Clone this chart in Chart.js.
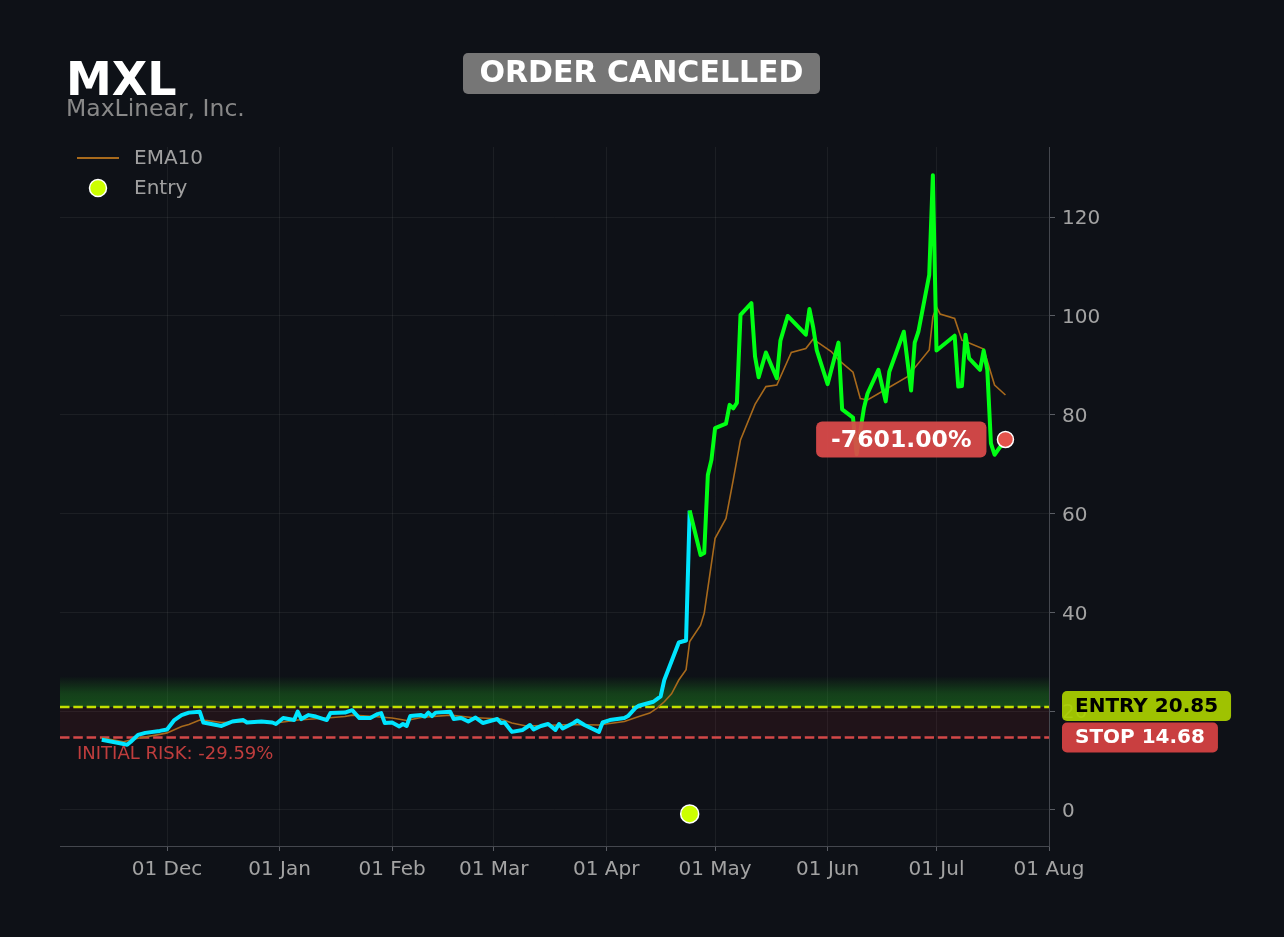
<!DOCTYPE html>
<html>
<head>
<meta charset="utf-8">
<script src="https://cdn.jsdelivr.net/npm/chart.js@4.4.1/dist/chart.umd.min.js"></script>
<style>
  html, body { margin: 0; padding: 0; background: #0e1117; }
  canvas { display: block; }
</style>
</head>
<body>
<canvas id="chart-trade" width="1284" height="937"></canvas>
<script>
// price closes (turning points)
const priceDates = [
  '2024-11-13','2024-11-18','2024-11-20','2024-11-21','2024-11-23','2024-11-25','2024-11-29',
  '2024-12-01','2024-12-03','2024-12-05','2024-12-07','2024-12-10','2024-12-11','2024-12-16',
  '2024-12-19','2024-12-22','2024-12-23','2024-12-27','2024-12-30','2024-12-31',
  '2025-01-02','2025-01-05','2025-01-06','2025-01-07','2025-01-09','2025-01-11','2025-01-14',
  '2025-01-15','2025-01-19','2025-01-21','2025-01-23','2025-01-26','2025-01-28','2025-01-29','2025-01-30',
  '2025-02-01','2025-02-03','2025-02-04','2025-02-05','2025-02-06','2025-02-09','2025-02-10',
  '2025-02-11','2025-02-12','2025-02-13','2025-02-17','2025-02-18','2025-02-20','2025-02-22',
  '2025-02-24','2025-02-26',
  '2025-03-02','2025-03-03','2025-03-04','2025-03-06','2025-03-09','2025-03-11','2025-03-12',
  '2025-03-14','2025-03-16','2025-03-18','2025-03-19','2025-03-20','2025-03-23','2025-03-24',
  '2025-03-26','2025-03-30','2025-03-31',
  '2025-04-02','2025-04-06','2025-04-07','2025-04-08','2025-04-09','2025-04-10','2025-04-14',
  '2025-04-16','2025-04-17','2025-04-21','2025-04-23','2025-04-24','2025-04-27','2025-04-28',
  '2025-04-29','2025-04-30',
  '2025-05-01','2025-05-04','2025-05-05','2025-05-06','2025-05-07','2025-05-08','2025-05-11',
  '2025-05-12','2025-05-13','2025-05-15','2025-05-18','2025-05-19','2025-05-21','2025-05-26',
  '2025-05-27','2025-05-28','2025-05-29',
  '2025-06-01','2025-06-04','2025-06-05','2025-06-08','2025-06-09','2025-06-11','2025-06-12',
  '2025-06-15','2025-06-17','2025-06-18','2025-06-22','2025-06-24','2025-06-25','2025-06-26',
  '2025-06-29','2025-06-30',
  '2025-07-01','2025-07-06','2025-07-07','2025-07-08','2025-07-09','2025-07-10','2025-07-13',
  '2025-07-14','2025-07-15','2025-07-16','2025-07-17','2025-07-20'
];
const priceValues = [
  14.2, 13.5, 13.2, 13.8, 15.2, 15.6, 16.0,
  16.3, 18.2, 19.2, 19.7, 19.9, 17.7, 17.0,
  17.9, 18.2, 17.7, 17.9, 17.7, 17.4,
  18.6, 18.2, 19.9, 18.4, 19.2, 18.9, 18.2,
  19.6, 19.7, 20.2, 18.6, 18.6, 19.4, 19.6, 17.6,
  17.7, 16.9, 17.4, 17.0, 19.0, 19.2, 18.9,
  19.7, 19.0, 19.7, 19.9, 18.4, 18.6, 17.9,
  18.7, 17.6,
  18.4, 17.6, 17.7, 15.8, 16.2, 17.2, 16.3,
  17.0, 17.4, 16.2, 17.4, 16.5, 17.6, 18.1,
  17.2, 15.8, 17.7,
  18.2, 18.6, 19.0, 19.8, 20.6, 21.1, 21.9,
  23.0, 26.3, 33.9, 34.3, 60.6, 51.6, 52.0,
  67.8, 70.9,
  77.3, 78.2, 82.0, 81.3, 82.4, 100.2, 102.6,
  91.8, 87.6, 92.6, 87.4, 95.0, 100.0, 96.2,
  101.4, 97.8, 93.1,
  86.2, 94.6, 81.1, 79.4, 72.0, 81.3, 84.3,
  89.1, 82.7, 88.7, 96.8, 84.9, 94.6, 96.8,
  108.3, 128.5,
  93.0, 96.0, 85.7, 85.8, 96.2, 91.4, 89.1,
  93.0, 89.1, 74.2, 71.9, 75.0
];

// EMA10 as drawn on the chart
const emaDates = [
  '2024-11-13','2024-11-19','2024-11-23','2024-11-29','2024-12-01','2024-12-05','2024-12-07',
  '2024-12-10','2024-12-12','2024-12-16','2024-12-27','2024-12-31',
  '2025-01-06','2025-01-14','2025-01-19','2025-01-21','2025-01-27',
  '2025-02-01','2025-02-05','2025-02-09','2025-02-17','2025-02-23',
  '2025-03-03','2025-03-06','2025-03-10','2025-03-23','2025-03-30',
  '2025-04-06','2025-04-10','2025-04-13','2025-04-15','2025-04-17','2025-04-19','2025-04-21',
  '2025-04-23','2025-04-24','2025-04-27','2025-04-28',
  '2025-05-01','2025-05-04','2025-05-06','2025-05-08','2025-05-12','2025-05-15','2025-05-18',
  '2025-05-22','2025-05-26','2025-05-28','2025-05-29',
  '2025-06-02','2025-06-04','2025-06-08','2025-06-10','2025-06-12','2025-06-16','2025-06-23',
  '2025-06-29','2025-06-30',
  '2025-07-01','2025-07-02','2025-07-06','2025-07-08','2025-07-10','2025-07-14','2025-07-17','2025-07-20'
];
const emaValues = [
  14.6, 13.8, 14.5, 15.3, 15.6, 16.9, 17.3,
  18.2, 18.1, 17.7, 17.9, 17.6,
  18.2, 18.6, 18.9, 19.2, 18.9,
  18.6, 18.1, 18.7, 19.2, 18.7,
  18.4, 17.6, 17.0, 17.3, 17.2,
  17.9, 18.9, 19.6, 20.6, 21.9, 23.5, 26.3,
  28.4, 34.1, 37.4, 39.8,
  55.0, 59.0, 66.8, 74.9, 82.1, 85.7, 86.0,
  92.6, 93.4, 95.3, 94.8,
  92.8, 91.1, 88.6, 83.3, 83.0, 84.7, 87.7,
  93.1, 99.8,
  101.8, 100.4, 99.5, 95.1, 94.5, 93.3, 86.0, 84.0
];

const monthTicks = ['2024-12-01','2025-01-01','2025-02-01','2025-03-01','2025-04-01',
                    '2025-05-01','2025-06-01','2025-07-01','2025-08-01'];
const priceTicks = [0, 20, 40, 60, 80, 100, 120];

const entryDate = '2025-04-24';
const entryMarkY = -0.8;
const exitDate = '2025-07-20';
const exitPrice = 75.0;
const entryPrice = 20.85;
const stopPrice = 14.68;
const pnlText = '-7601.00%';
const riskText = 'INITIAL RISK: -29.59%';

const BASE = Date.UTC(2024, 10, 1);
const dayNum = iso => (Date.parse(iso + 'T00:00:00Z') - BASE) / 864e5;
const MONTHS = ['Jan','Feb','Mar','Apr','May','Jun','Jul','Aug','Sep','Oct','Nov','Dec'];
const entryDay = dayNum(entryDate);

const FONT = '"DejaVu Sans", sans-serif';
const CYAN = '#00e5ff', GREEN = '#00ff14', EMA_COL = '#a86a1c';

function rrect(ctx, x, y, w, h, r) {
  ctx.beginPath();
  ctx.moveTo(x + r, y);
  ctx.arcTo(x + w, y, x + w, y + h, r);
  ctx.arcTo(x + w, y + h, x, y + h, r);
  ctx.arcTo(x, y + h, x, y, r);
  ctx.arcTo(x, y, x + w, y, r);
  ctx.closePath();
}

const overlay = {
  id: 'overlay',
  beforeDatasetsDraw(chart) {
    const { ctx, chartArea: a, scales: { y } } = chart;
    const yE = y.getPixelForValue(entryPrice);
    const yS = y.getPixelForValue(stopPrice);
    const yB = y.getPixelForValue(entryPrice * 1.3);
    ctx.save();
    ctx.fillStyle = 'rgba(200,40,50,0.1)';
    ctx.fillRect(a.left, yE, a.right - a.left, yS - yE);
    const g = ctx.createLinearGradient(0, yB, 0, yE);
    g.addColorStop(0, 'rgba(34,160,34,0)');
    g.addColorStop(0.55, 'rgba(34,160,34,0.32)');
    g.addColorStop(1, 'rgba(34,160,34,0.42)');
    ctx.fillStyle = g;
    ctx.fillRect(a.left, yB, a.right - a.left, yE - yB);
    ctx.lineWidth = 2.5;
    ctx.setLineDash([9.5, 3.8]);
    [[yE, '#c2e000'], [yS, '#d44848']].forEach(([py, c]) => {
      ctx.strokeStyle = c;
      ctx.beginPath();
      ctx.moveTo(a.left, py);
      ctx.lineTo(a.right, py);
      ctx.stroke();
    });
    ctx.restore();
  },
  afterDatasetsDraw(chart) {
    const { ctx, chartArea: a, scales: { x, y } } = chart;
    const yE = y.getPixelForValue(entryPrice);
    const yS = y.getPixelForValue(stopPrice);
    ctx.save();
    ctx.textBaseline = 'middle';

    // risk note
    ctx.font = '18px ' + FONT;
    ctx.fillStyle = '#bf3d3d';
    ctx.textAlign = 'left';
    ctx.fillText(riskText, a.left + 17, yS + 17);

    // pnl badge next to exit
    const ex = x.getPixelForValue(dayNum(exitDate));
    const ey = y.getPixelForValue(exitPrice);
    ctx.font = 'bold 23.5px ' + FONT;
    let tw = ctx.measureText(pnlText).width;
    let bw = tw + 30, bx = ex - 19 - bw;
    ctx.fillStyle = 'rgba(220,74,74,0.93)';
    rrect(ctx, bx, ey - 18, bw, 36, 6);
    ctx.fill();
    ctx.fillStyle = '#ffffff';
    ctx.textAlign = 'center';
    ctx.fillText(pnlText, bx + bw / 2, ey + 1);

    // entry / stop tags on the axis
    const tagX = a.right + 13;
    ctx.font = 'bold 20px ' + FONT;
    const eTxt = 'ENTRY ' + entryPrice.toFixed(2);
    tw = ctx.measureText(eTxt).width;
    ctx.fillStyle = 'rgba(170,208,0,0.93)';
    rrect(ctx, tagX, yE - 16, tw + 26, 30, 5);
    ctx.fill();
    ctx.fillStyle = '#000000';
    ctx.fillText(eTxt, tagX + (tw + 26) / 2, yE);

    const sTxt = 'STOP ' + stopPrice.toFixed(2);
    tw = ctx.measureText(sTxt).width;
    ctx.fillStyle = 'rgba(212,66,66,0.95)';
    rrect(ctx, tagX, yS - 15, tw + 26, 30, 5);
    ctx.fill();
    ctx.fillStyle = '#ffffff';
    ctx.fillText(sTxt, tagX + (tw + 26) / 2, yS + 0.5);

    // legend
    ctx.textAlign = 'left';
    ctx.font = '20px ' + FONT;
    ctx.strokeStyle = EMA_COL;
    ctx.lineWidth = 2;
    ctx.beginPath();
    ctx.moveTo(a.left + 17, a.top + 11);
    ctx.lineTo(a.left + 59, a.top + 11);
    ctx.stroke();
    ctx.fillStyle = '#a0a0a0';
    ctx.fillText('EMA10', a.left + 74, a.top + 12);
    ctx.beginPath();
    ctx.arc(a.left + 38, a.top + 41, 8.5, 0, Math.PI * 2);
    ctx.fillStyle = '#ccff00';
    ctx.fill();
    ctx.lineWidth = 1.5;
    ctx.strokeStyle = '#ffffff';
    ctx.stroke();
    ctx.fillStyle = '#a0a0a0';
    ctx.fillText('Entry', a.left + 74, a.top + 42);

    // header
    ctx.textBaseline = 'alphabetic';
    ctx.fillStyle = '#ffffff';
    ctx.font = 'bold 46px ' + FONT;
    ctx.fillText('MXL', 66, 95);
    ctx.fillStyle = '#888888';
    ctx.font = '23.5px ' + FONT;
    ctx.fillText('MaxLinear, Inc.', 66, 116);

    ctx.fillStyle = '#767676';
    rrect(ctx, 463, 53, 357, 41, 5);
    ctx.fill();
    ctx.fillStyle = '#ffffff';
    ctx.font = 'bold 30px ' + FONT;
    ctx.textAlign = 'center';
    ctx.textBaseline = 'middle';
    ctx.fillText('ORDER CANCELLED', 641.5, 74);
    ctx.restore();
  }
};

const chartTradeGet = document.getElementById('chart-trade');
const chartTradeRender = new Chart(chartTradeGet, {
  type: 'line',
  data: {
    datasets: [{
      label: 'Entry',
      type: 'scatter',
      data: [{ x: entryDay, y: entryMarkY }],
      pointRadius: 9,
      pointBackgroundColor: '#ccff00',
      pointBorderColor: '#ffffff',
      pointBorderWidth: 1.5,
      order: 0
    }, {
      label: 'Exit',
      type: 'scatter',
      data: [{ x: dayNum(exitDate), y: exitPrice }],
      pointRadius: 8,
      pointBackgroundColor: '#e5534b',
      pointBorderColor: '#ffffff',
      pointBorderWidth: 1.5,
      order: 0
    }, {
      label: 'Price',
      data: priceDates.map((d, i) => ({ x: dayNum(d), y: priceValues[i] })),
      borderColor: CYAN,
      borderWidth: 4,
      pointRadius: 0,
      tension: 0,
      borderJoinStyle: 'round',
      segment: {
        borderColor: c => c.p0.parsed.x >= entryDay ? GREEN : CYAN
      },
      order: 1
    }, {
      label: 'EMA10',
      data: emaDates.map((d, i) => ({ x: dayNum(d), y: emaValues[i] })),
      borderColor: EMA_COL,
      borderWidth: 1.6,
      pointRadius: 0,
      tension: 0,
      order: 2
    }]
  },
  options: {
    responsive: false,
    animation: false,
    layout: { padding: { left: 60, top: 147, right: 155, bottom: 51 } },
    plugins: { legend: { display: false }, tooltip: { enabled: false } },
    scales: {
      x: {
        type: 'linear',
        min: 0.5,
        max: dayNum('2025-08-01'),
        afterFit: s => { s.height = 40; },
        afterBuildTicks: s => { s.ticks = monthTicks.map(d => ({ value: dayNum(d) })); },
        ticks: {
          autoSkip: false,
          maxRotation: 0,
          padding: 7,
          color: '#a3a3a3',
          font: { family: FONT, size: 20 },
          callback: v => {
            const d = new Date(BASE + v * 864e5);
            return String(d.getUTCDate()).padStart(2, '0') + ' ' + MONTHS[d.getUTCMonth()];
          }
        },
        grid: { color: 'rgba(255,255,255,0.06)', tickColor: '#5a5d64', tickLength: 5 },
        border: { display: true, color: '#44474e', width: 1 }
      },
      y: {
        position: 'right',
        min: -7.3,
        max: 134.2,
        afterFit: s => { s.width = 80; },
        afterBuildTicks: s => { s.ticks = priceTicks.map(v => ({ value: v })); },
        ticks: {
          padding: 7,
          labelOffset: 2,
          color: '#a3a3a3',
          font: { family: FONT, size: 20 }
        },
        grid: { color: 'rgba(255,255,255,0.06)', tickColor: '#5a5d64', tickLength: 6 },
        border: { display: true, color: '#44474e', width: 1 }
      }
    }
  },
  plugins: [overlay]
});
</script>
</body>
</html>
